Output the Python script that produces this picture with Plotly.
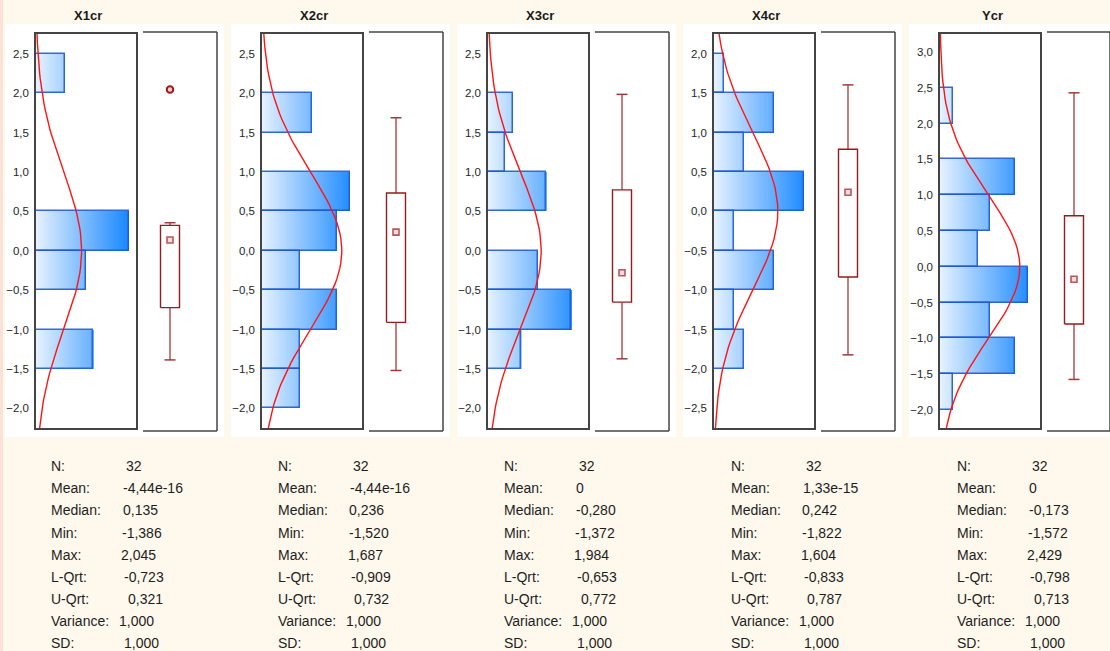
import numpy as np
import plotly.graph_objects as go

# ---- data -------------------------------------------------------------
names = ["X1cr", "X2cr", "X3cr", "X4cr", "Ycr"]

# histogram bins (lower edge of each 0.5-wide bin) and counts
x1_bins = [2.0, 0.0, -0.5, -1.5]
x1_counts = [4, 13, 7, 8]
x2_bins = [1.5, 0.5, 0.0, -0.5, -1.0, -1.5, -2.0]
x2_counts = [4, 7, 6, 3, 6, 3, 3]
x3_bins = [1.5, 1.0, 0.5, -0.5, -1.0, -1.5]
x3_counts = [3, 2, 7, 6, 10, 4]
x4_bins = [1.5, 1.0, 0.5, 0.0, -0.5, -1.0, -1.5, -2.0]
x4_counts = [1, 6, 3, 9, 2, 6, 2, 3]
y_bins = [2.0, 1.0, 0.5, 0.0, -0.5, -1.0, -1.5, -2.0]
y_counts = [1, 6, 4, 3, 7, 4, 6, 1]
bin_width = 0.5

y_ranges = [[-2.25, 2.75], [-2.25, 2.75], [-2.25, 2.75], [-2.75, 2.25], [-2.25, 3.25]]

# descriptive statistics
n_obs = [32, 32, 32, 32, 32]
mean_vals = [-4.44e-16, -4.44e-16, 0.0, 1.33e-15, 0.0]
median_vals = [0.135, 0.236, -0.280, 0.242, -0.173]
min_vals = [-1.386, -1.520, -1.372, -1.822, -1.572]
max_vals = [2.045, 1.687, 1.984, 1.604, 2.429]
lqrt_vals = [-0.723, -0.909, -0.653, -0.833, -0.798]
uqrt_vals = [0.321, 0.732, 0.772, 0.787, 0.713]
var_vals = [1.000, 1.000, 1.000, 1.000, 1.000]
sd_vals = [1.000, 1.000, 1.000, 1.000, 1.000]

# box-plot whisker ends and outlying points
whisker_hi = [0.355, 1.687, 1.984, 1.604, 2.429]
whisker_lo = [-1.386, -1.520, -1.372, -1.822, -1.572]
outliers = [[2.045], [], [], [], []]

bins_all = [x1_bins, x2_bins, x3_bins, x4_bins, y_bins]
counts_all = [x1_counts, x2_counts, x3_counts, x4_counts, y_counts]

# ---- layout constants -------------------------------------------------
W, H = 1110, 651
PANEL_STEP = 226
HIST_LEFT0 = 36
HIST_W = 100
FRAME_TOP, FRAME_BOT = 34, 428
BOX_L, BOX_R = 107, 181
BOX_C = 134

CREAM = "#FFF8EC"
FRAME = "#444444"
FONT = "Arial, Liberation Sans, sans-serif"


def px(x):
    return min(max(x / W, 0.0), 1.0)


def py(y):
    return 1 - y / H


def fmt_num(v, digits=3):
    return f"{v:.{digits}f}".replace(".", ",")


def fmt_mean(v):
    return f"{v:.3g}".replace(".", ",")


def grad_color(t):
    c0 = np.array([228, 241, 255])
    c1 = np.array([10, 128, 255])
    c = c0 + (c1 - c0) * t
    return "rgb(%d,%d,%d)" % tuple(np.round(c).astype(int))


fig = go.Figure()
shapes = []
annotations = []
layout_axes = {}

for i, name in enumerate(names):
    x0 = HIST_LEFT0 + PANEL_STEP * i
    hx, hy = 2 * i + 1, 2 * i + 1
    bx, by = 2 * i + 2, 2 * i + 2
    hxa = "x" if hx == 1 else f"x{hx}"
    hya = "y" if hy == 1 else f"y{hy}"
    bxa, bya = f"x{bx}", f"y{by}"

    bins = bins_all[i]
    counts = counts_all[i]
    centers = [b + bin_width / 2 for b in bins]
    xmax = 2 * (max(counts) // 2 + 1)
    ylo, yhi = y_ranges[i]

    # white panel background
    shapes.append(dict(type="rect", xref="paper", yref="paper",
                       x0=px(x0 - 31), x1=px(x0 + 188), y0=py(437), y1=py(24),
                       fillcolor="white", line=dict(width=0), layer="below"))

    # gradient-filled histogram bars: layered bars, each starting further right
    n_layers = 100
    lay_y, lay_base, lay_len, lay_col = [], [], [], []
    for k in range(n_layers):
        start = xmax * k / n_layers
        col = grad_color(k / (n_layers - 1))
        for c, cnt in zip(centers, counts):
            if cnt > start:
                lay_y.append(c)
                lay_base.append(start)
                lay_len.append(cnt - start)
                lay_col.append(col)
    fig.add_trace(go.Bar(orientation="h", y=lay_y, x=lay_len, base=lay_base,
                         width=bin_width, marker=dict(color=lay_col, line=dict(width=0)),
                         xaxis=hxa, yaxis=hya, hoverinfo="skip", showlegend=False))
    # bar outlines
    fig.add_trace(go.Bar(orientation="h", y=centers, x=counts, base=0,
                         width=bin_width,
                         marker=dict(color="rgba(0,0,0,0)",
                                     line=dict(color="rgba(30,90,210,0.9)", width=1.5)),
                         xaxis=hxa, yaxis=hya, hoverinfo="skip", showlegend=False))

    # fitted normal density scaled to counts
    yy = np.linspace(ylo, yhi, 80)
    dens = np.exp(-0.5 * ((yy - mean_vals[i]) / sd_vals[i]) ** 2) / (sd_vals[i] * np.sqrt(2 * np.pi))
    fig.add_trace(go.Scatter(x=n_obs[i] * bin_width * dens, y=yy, mode="lines",
                             line=dict(color="#FF1414", width=1.4),
                             xaxis=hxa, yaxis=hya, hoverinfo="skip", showlegend=False))

    # box plot
    bw = 9.5 / (BOX_R - BOX_L)
    cw = 5.5 / (BOX_R - BOX_L)
    c = (BOX_C - BOX_L) / (BOX_R - BOX_L)
    box_col = "#941C1C"
    fig.add_trace(go.Scatter(x=[c, c, None, c, c],
                             y=[uqrt_vals[i], whisker_hi[i], None, lqrt_vals[i], whisker_lo[i]],
                             mode="lines", line=dict(color="#A23A3A", width=1.3),
                             xaxis=bxa, yaxis=bya, hoverinfo="skip", showlegend=False))
    fig.add_trace(go.Scatter(x=[c - cw, c + cw, None, c - cw, c + cw],
                             y=[whisker_hi[i], whisker_hi[i], None, whisker_lo[i], whisker_lo[i]],
                             mode="lines", line=dict(color="#A23A3A", width=1.5),
                             xaxis=bxa, yaxis=bya, hoverinfo="skip", showlegend=False))
    fig.add_trace(go.Scatter(x=[c - bw, c + bw, c + bw, c - bw, c - bw],
                             y=[lqrt_vals[i], lqrt_vals[i], uqrt_vals[i], uqrt_vals[i], lqrt_vals[i]],
                             mode="lines", fill="toself", fillcolor="white",
                             line=dict(color=box_col, width=1.4),
                             xaxis=bxa, yaxis=bya, hoverinfo="skip", showlegend=False))
    fig.add_trace(go.Scatter(x=[c], y=[median_vals[i]], mode="markers",
                             marker=dict(symbol="square", size=6, color="#F4DADA",
                                         line=dict(color="#B45A5A", width=1.6)),
                             xaxis=bxa, yaxis=bya, hoverinfo="skip", showlegend=False))
    if outliers[i]:
        fig.add_trace(go.Scatter(x=[c] * len(outliers[i]), y=outliers[i], mode="markers",
                                 marker=dict(symbol="circle", size=6.5, color="#F2D0D0",
                                             line=dict(color="#A01A1A", width=2)),
                                 xaxis=bxa, yaxis=bya, hoverinfo="skip", showlegend=False))

    # box axis may be cut off by the right edge of the figure
    box_left = x0 + BOX_L
    box_right = min(W, x0 + BOX_R)
    box_span = (box_right - box_left) / (BOX_R - BOX_L)

    ydom = [py(FRAME_BOT), py(FRAME_TOP)]
    layout_axes["xaxis" if hx == 1 else f"xaxis{hx}"] = dict(
        domain=[px(x0), px(x0 + HIST_W)], range=[0, xmax], showgrid=False,
        zeroline=False, showticklabels=False, showline=True, mirror=True,
        linecolor=FRAME, linewidth=1.5, anchor=hya, fixedrange=True)
    layout_axes["yaxis" if hy == 1 else f"yaxis{hy}"] = dict(
        domain=ydom, range=[ylo, yhi], showgrid=False, zeroline=False,
        showline=True, mirror=True, linecolor=FRAME, linewidth=1.5,
        tick0=0, dtick=0.5, tickformat=".1f", ticks="", ticklabelstandoff=3,
        tickfont=dict(family=FONT, size=11.5, color="#262626"),
        anchor=hxa, fixedrange=True)
    layout_axes[f"xaxis{bx}"] = dict(domain=[px(box_left), px(box_right)], range=[0, box_span],
                                     visible=False, anchor=bya, fixedrange=True)
    layout_axes[f"yaxis{by}"] = dict(domain=ydom, range=[ylo, yhi], visible=False,
                                     anchor=bxa, fixedrange=True)

    # frame around the box plot (top, right, bottom)
    for (ax0, ay0, ax1, ay1) in [(BOX_L, 32, BOX_R, 32), (BOX_R, 32, BOX_R, 431),
                                 (BOX_L, 431, BOX_R, 431)]:
        shapes.append(dict(type="line", xref="paper", yref="paper",
                           x0=px(x0 + ax0), x1=px(x0 + ax1), y0=py(ay0), y1=py(ay1),
                           line=dict(color=FRAME, width=1.5)))

    # panel title
    annotations.append(dict(text=f"<b>{name}</b>", xref="paper", yref="paper",
                            x=px(x0 + 52), y=py(15), xanchor="center", yanchor="middle",
                            showarrow=False, font=dict(family=FONT, size=13, color="#1a1a1a")))

    # statistics block
    lab_x = 49 + 226.5 * i
    rows = [
        ("N:", str(n_obs[i]), 75.3),
        ("Mean:", fmt_mean(mean_vals[i]), 72.3),
        ("Median:", fmt_num(median_vals[i]), 71.5),
        ("Min:", fmt_num(min_vals[i]), 71.0),
        ("Max:", fmt_num(max_vals[i]), 70.0),
        ("L-Qrt:", fmt_num(lqrt_vals[i]), 73.0),
        ("U-Qrt:", fmt_num(uqrt_vals[i]), 76.5),
        ("Variance:", fmt_num(var_vals[i]), 68.0),
        ("SD:", fmt_num(sd_vals[i]), 73.3),
    ]
    for r, (lab, val, off) in enumerate(rows):
        yrow = 466.5 + 22 * r
        annotations.append(dict(text=lab, xref="paper", yref="paper", x=px(lab_x), y=py(yrow),
                                xanchor="left", yanchor="middle", showarrow=False,
                                font=dict(family=FONT, size=14, color="#1e1e1e")))
        annotations.append(dict(text=val, xref="paper", yref="paper", x=px(lab_x + off),
                                y=py(yrow), xanchor="left", yanchor="middle", showarrow=False,
                                font=dict(family=FONT, size=14, color="#1e1e1e")))

# thin pink strip on the left edge
shapes.append(dict(type="rect", xref="paper", yref="paper", x0=0, x1=px(3), y0=0, y1=1,
                   fillcolor="#FBE2D8", line=dict(width=0), layer="below"))

fig.update_layout(
    width=W, height=H, autosize=False,
    margin=dict(l=0, r=0, t=0, b=0),
    paper_bgcolor=CREAM, plot_bgcolor="white",
    barmode="overlay", bargap=0,
    separators=", ",
    showlegend=False, hovermode=False,
    shapes=shapes, annotations=annotations,
    **layout_axes,
)

fig.write_html("out.html", config={"displayModeBar": False})
